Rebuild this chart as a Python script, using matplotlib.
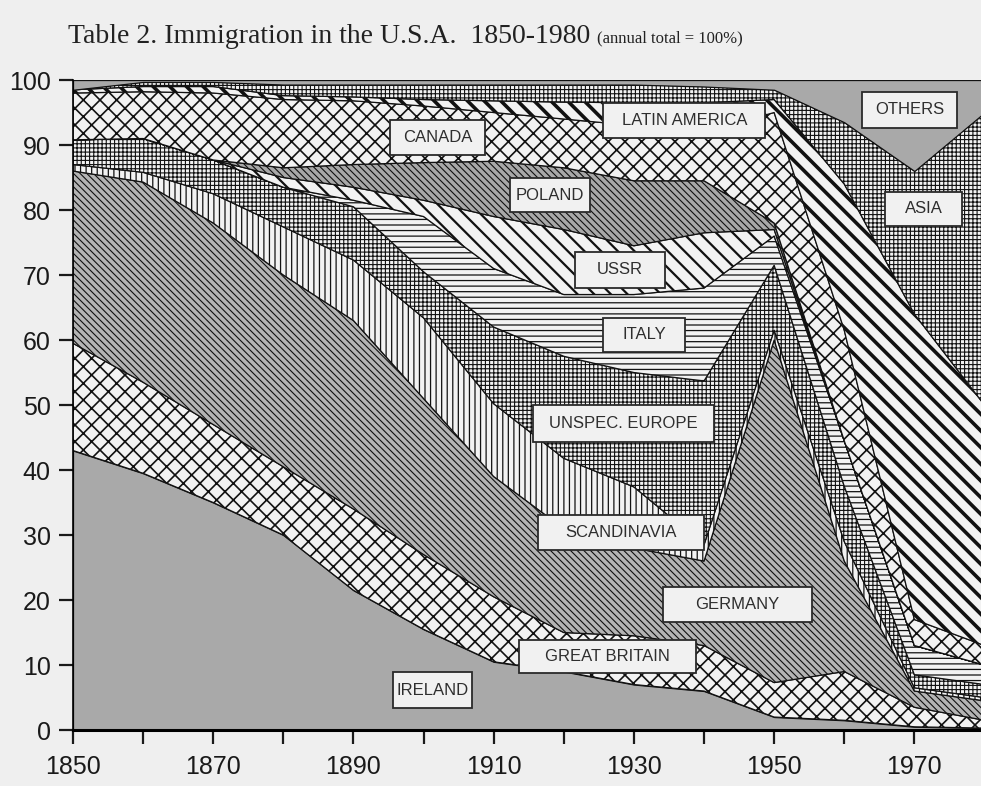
import numpy as np
import matplotlib
matplotlib.use('Agg')
import matplotlib.pyplot as plt
from matplotlib.patches import Rectangle

plt.rcParams['hatch.linewidth'] = 0.9

# ==============================================
#    Data: share of annual immigration [%]
# ==============================================
years = [1850, 1860, 1870, 1880, 1890, 1900, 1910, 1920, 1930, 1940, 1950, 1960, 1970, 1980]

ireland = [43, 39.5, 35, 30, 21.5, 15.5, 10.5, 9, 7, 6, 2, 1.5, 0.5, 0.3]
great_britain = [16.5, 14, 12, 10.5, 12.5, 11.5, 10, 6, 7.5, 7, 5.3, 7.5, 3, 1.2]
germany = [26.5, 30.8, 31, 29.5, 29, 24, 18.5, 16, 13.5, 13, 52.7, 17, 2.5, 3]
scandinavia = [1, 1.5, 4.5, 7.4, 9.3, 12.4, 11.2, 10.8, 9.4, 2.5, 1.5, 3, 0.5, 0.5]
unspec_europe = [3.8, 5.2, 5.2, 6.1, 8.2, 7.1, 11.8, 15.7, 17.6, 25.2, 10, 8.5, 2, 2]
italy = [0, 0, 0, 0, 1, 8.5, 9, 9.5, 12, 14.3, 4.5, 7, 4.5, 3]
ussr = [0, 0, 0, 1.5, 2, 2.5, 8, 10, 7.5, 8.5, 1, 0, 0, 0]
poland = [0, 0, 0, 1.5, 3.5, 5.8, 8.5, 9.5, 10, 8, 1, 0, 0, 0]
canada = [7.2, 7.2, 10.3, 10.5, 9.8, 8.7, 7.5, 7.5, 8.5, 7.5, 17, 17, 4, 3]
latin_america = [0.5, 0.8, 1, 0.6, 0.6, 1, 1.8, 2.6, 3.5, 4.5, 2, 22.5, 47, 37]
asia = [0, 0.7, 0.7, 1.7, 1.9, 2.3, 2.5, 2.7, 2.8, 2.5, 1.5, 9.5, 22, 45]
others = [1.5, 0.3, 0.3, 0.7, 0.7, 0.7, 0.7, 0.7, 0.7, 1, 1.5, 6.5, 14, 5]

series = [ireland, great_britain, germany, scandinavia, unspec_europe, italy,
          ussr, poland, canada, latin_america, asia, others]

labels = ['IRELAND', 'GREAT BRITAIN', 'GERMANY', 'SCANDINAVIA', 'UNSPEC. EUROPE',
          'ITALY', 'USSR', 'POLAND', 'CANADA', 'LATIN AMERICA', 'ASIA', 'OTHERS']

# label box centre (year, %) and box size (years, %)
label_x = [1901.3, 1926.2, 1944.8, 1928.2, 1928.5, 1931.5, 1928.0, 1918.0, 1902.0, 1937.2, 1971.3, 1969.3]
label_y = [6.15, 11.3, 19.3, 30.4, 47.2, 60.8, 70.8, 82.3, 91.2, 93.8, 80.2, 95.4]
box_w = [11.3, 25.2, 21.3, 23.7, 25.8, 11.7, 12.8, 11.4, 13.6, 23.1, 11.1, 13.6]
box_h = [5.5, 5.1, 5.4, 5.4, 5.7, 5.2, 5.5, 5.2, 5.4, 5.4, 5.2, 5.5]

# fill style per layer: (face colour, hatch, hatch line width)
styles = [
    ('#a9a9a9', None, 0.9),
    ('#f2f2f2', 'xx', 1.2),
    ('#b4b4b4', '\\\\\\\\\\', 0.8),
    ('#f2f2f2', '|||', 0.9),
    ('#f2f2f2', '++++', 0.8),
    ('#f2f2f2', '---', 0.9),
    ('#f2f2f2', '\\\\', 1.6),
    ('#a8a8a8', '\\\\\\\\\\', 0.8),
    ('#f2f2f2', 'xx', 1.2),
    ('#f2f2f2', '\\\\', 2.6),
    ('#f2f2f2', '++++', 0.8),
    ('#a9a9a9', None, 0.9),
]

bg = '#efefef'
fig = plt.figure(figsize=(9.81, 7.86), dpi=100, facecolor=bg)
ax = fig.add_axes([0.0744, 0.0712, 0.9256, 0.8270])
ax.set_facecolor(bg)

x = np.array(years, dtype=float)
base = np.zeros_like(x)
for vals, (fc, hatch, hlw) in zip(series, styles):
    top = base + np.array(vals, dtype=float)
    with plt.rc_context({'hatch.linewidth': hlw}):
        ax.fill_between(x, base, top, facecolor=fc, edgecolor='#111111',
                        hatch=hatch, linewidth=0.9)
    base = top

for name, lx, ly, w, h in zip(labels, label_x, label_y, box_w, box_h):
    ax.add_patch(Rectangle((lx - w / 2, ly - h / 2), w, h, facecolor='#f1f1f1',
                           edgecolor='#2a2a2a', linewidth=1.3, zorder=5))
    ax.text(lx, ly, name, ha='center', va='center', fontsize=12,
            family='Liberation Sans', color='#2e2e2e', zorder=6)

ax.set_xlim(1850, 1979.5)
ax.set_ylim(0, 100)
ax.set_xticks(np.arange(1850, 1980, 10))
ax.set_xticklabels([str(y) if (y - 1850) % 20 == 0 else '' for y in range(1850, 1980, 10)])
ax.set_yticks(np.arange(0, 101, 10))
for lab in ax.get_xticklabels() + ax.get_yticklabels():
    lab.set_family('Liberation Sans')
    lab.set_fontsize(18)
    lab.set_color('#1a1a1a')
ax.tick_params(axis='both', direction='out', length=10, width=1.6, color='#1a1a1a')
ax.tick_params(axis='y', pad=6)
ax.tick_params(axis='x', pad=8)
for s in ['top', 'right']:
    ax.spines[s].set_visible(False)
ax.spines['left'].set_linewidth(1.2)
ax.spines['bottom'].set_linewidth(2.2)

fig.text(0.0693, 0.953, 'Table 2. Immigration in the U.S.A.  1850-1980', family='Liberation Serif',
         fontsize=20, va='center', ha='left', color='#222222')
fig.text(0.609, 0.951, '(annual total = 100%)', family='Liberation Serif',
         fontsize=12, va='center', ha='left', color='#222222')

fig.savefig('out.png', dpi=100, facecolor=bg)
